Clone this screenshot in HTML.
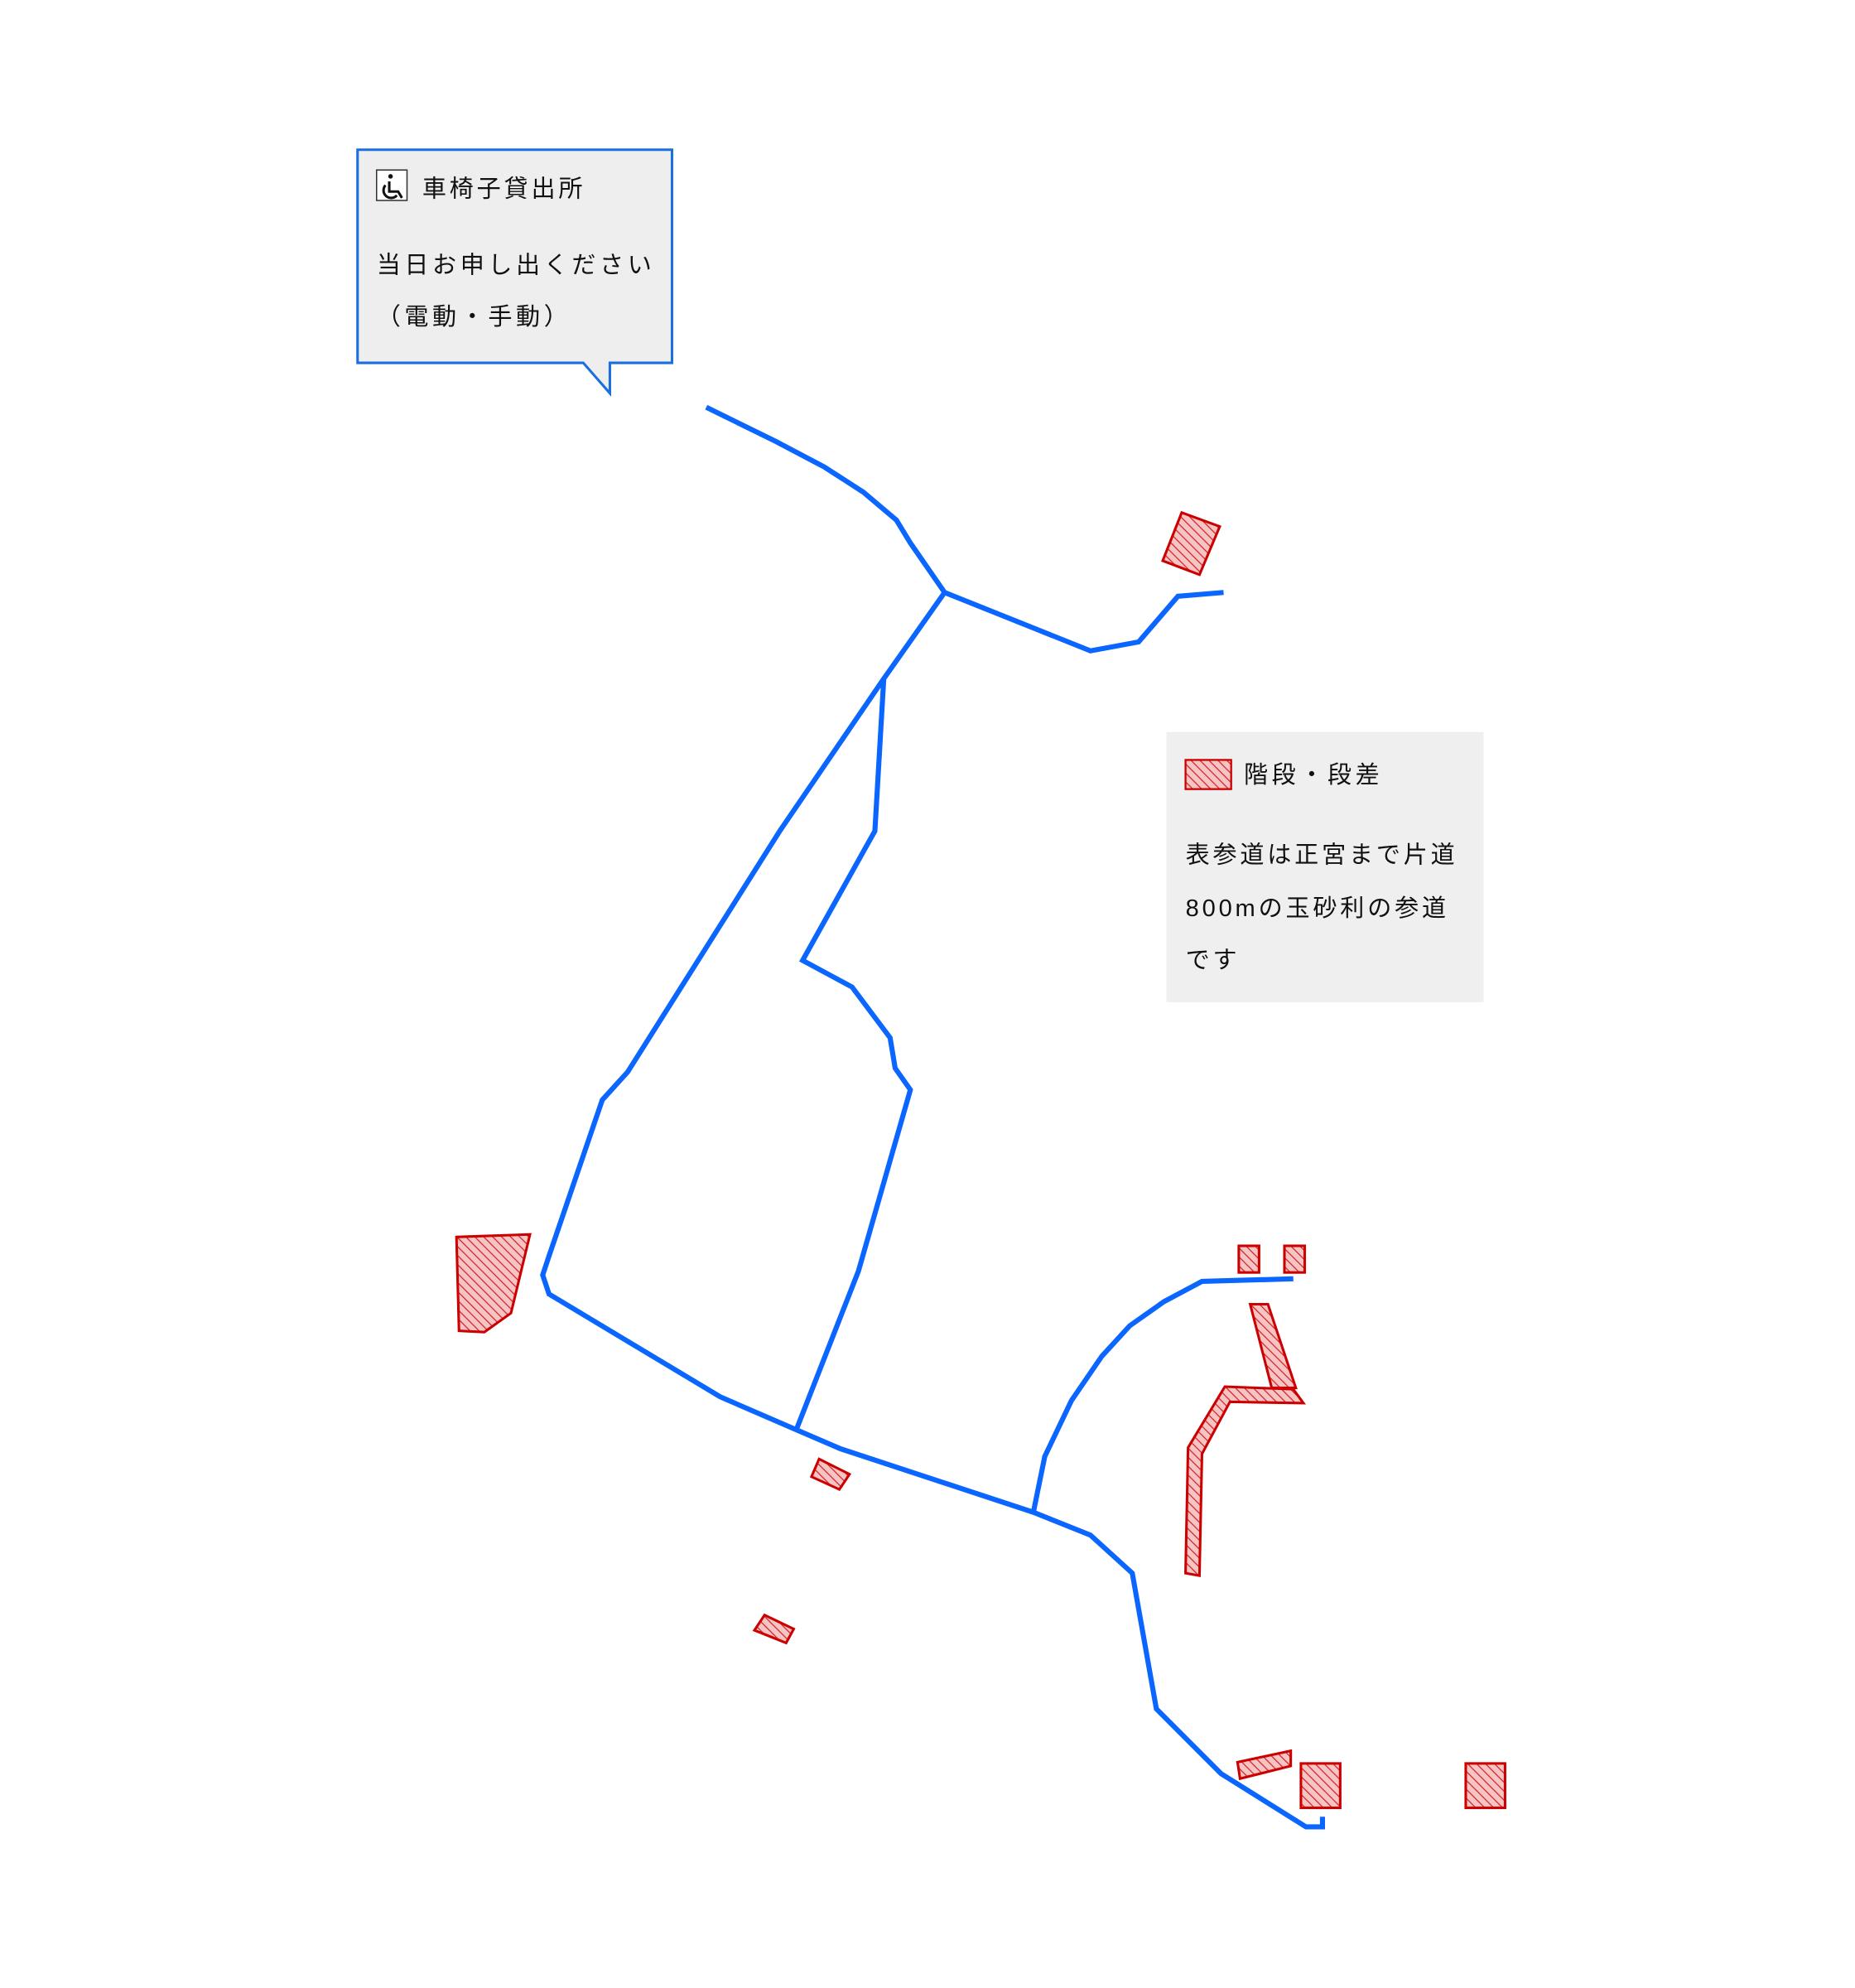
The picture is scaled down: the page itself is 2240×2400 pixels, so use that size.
<!DOCTYPE html>
<html><head><meta charset="utf-8"><style>
html,body{margin:0;padding:0;background:#fff}
svg{display:block}
text{font-family:"Liberation Sans","Noto Sans CJK JP",sans-serif;fill:#111}
</style></head><body>
<svg width="2240" height="2400" viewBox="0 0 1463 1567" preserveAspectRatio="none" xmlns="http://www.w3.org/2000/svg">
<defs>
<pattern id="h" patternUnits="userSpaceOnUse" width="5" height="5" patternTransform="rotate(-45)">
<rect width="5" height="5" fill="#f6c4c4"/>
<line x1="0" y1="0" x2="0" y2="5" stroke="#d42020" stroke-width="1.6"/>
</pattern>
</defs>
<!-- callout -->
<path d="M282,118 H530 V286 H481 V310 L460,286 H282 Z" fill="#eeeeee" stroke="#1a6fe0" stroke-width="2"/>
<rect x="297" y="134" width="24" height="24" fill="#fff" stroke="#333" stroke-width="1"/>
<g fill="none" stroke="#111" stroke-width="2">
<circle cx="308" cy="139" r="1.8" fill="#111" stroke="none"/>
<path d="M307,143 V151 H314 L317,156"/>
<path d="M304,146 A6,6 0 1 0 313,154"/>
</g>
<text x="333" y="155" font-size="19" letter-spacing="2.5">車椅子貸出所</text>
<text x="297" y="215" font-size="19" letter-spacing="3">当日お申し出ください</text>
<text x="297" y="256" font-size="19" letter-spacing="3">（電動・手動）</text>
<!-- legend -->
<rect x="920" y="577" width="250" height="213" fill="#efefef"/>
<rect x="935" y="599" width="36" height="23" fill="url(#h)" stroke="#cc0000" stroke-width="1.5"/>
<text x="981" y="617" font-size="19" letter-spacing="3">階段・段差</text>
<text x="935" y="680" font-size="19" letter-spacing="2.5">表参道は正宮まで片道</text>
<text x="935" y="722" font-size="19" letter-spacing="2.5">800mの玉砂利の参道</text>
<text x="935" y="763" font-size="19" letter-spacing="2.5">です</text>
<!-- paths -->
<g fill="none" stroke="#0a66ff" stroke-width="4" stroke-linejoin="miter">
<polyline points="557,321 612,348 650,368 681,388 707,410 718,428 745,467 860,513 898,506 929,470 965,467"/>
<polyline points="745,467 697,535 615,655 495,845 475,867 433,990 428,1005 433,1020 568,1101 628,1127 663,1142 815,1192 860,1210 893,1240 912,1347 963,1398 1030,1440 1043,1440 1043,1432"/>
<polyline points="697,535 690,655 633,757 672,778 702,818 706,842 718,859 677,1002 628,1127"/>
<polyline points="815,1192 824,1148 845,1104 869,1069 891,1045 918,1026 948,1010 1020,1008"/>
</g>
<!-- hatched -->
<g fill="url(#h)" stroke="#cc0000" stroke-width="2">
<polygon points="932,404 962,415 946,453 917,442"/>
<polygon points="360,975 418,973 403,1035 382,1050 362,1049"/>
<polygon points="646,1150 670,1162 662,1174 640,1164"/>
<polygon points="603,1273 626,1284 620,1295 595,1285"/>
<rect x="977" y="982" width="16" height="21"/>
<rect x="1013" y="982" width="16" height="21"/>
<polygon points="986,1028 1000,1028 1022,1094 1003,1094"/>
<polygon points="966,1093 1020,1095 1028,1106 970,1105 948,1146 946,1242 935,1240 937,1141"/>
<polygon points="976,1389 1018,1380 1018,1392 978,1402"/>
<rect x="1026" y="1390" width="31" height="35"/>
<rect x="1156" y="1390" width="31" height="35"/>
</g>
</svg>
</body></html>
